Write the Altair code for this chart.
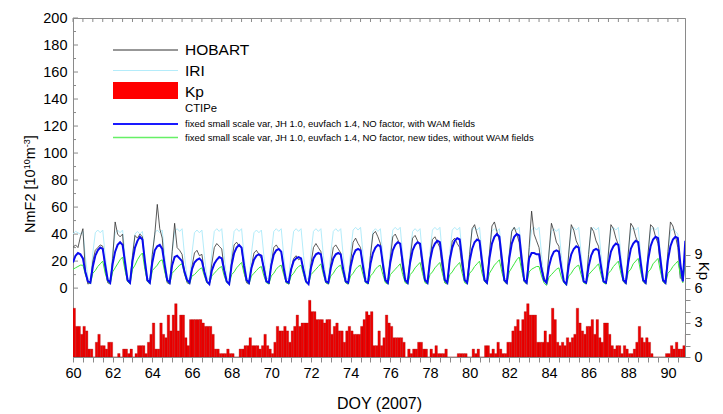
import altair as alt
import pandas as pd

# ---------------- data ----------------
days = list(range(60, 91))
steps = [0, 0.125, 0.25, 0.375, 0.5, 0.625, 0.75, 0.875]

hobart = [
    [30, 32, 30, 38, 44, 12, 3, 4], [20, 28, 30, 32, 31, 14, 4, 3],
    [22, 49, 40, 38, 40, 15, 5, 3], [24, 39, 37, 40, 38, 16, 5, 4],
    [25, 40, 62, 44, 37, 14, 4, 3], [27, 48, 30, 28, 25, 12, 4, 3],
    [16, 26, 28, 24, 25, 12, 4, 3], [18, 30, 33, 31, 29, 14, 5, 3],
    [20, 32, 34, 31, 30, 13, 4, 3], [16, 26, 28, 25, 22, 16, 6, 3],
    [18, 30, 32, 29, 27, 12, 4, 3], [14, 22, 24, 21, 22, 14, 5, 3],
    [18, 30, 33, 30, 27, 13, 4, 3], [18, 30, 32, 29, 26, 12, 4, 3],
    [20, 34, 37, 33, 30, 14, 5, 3], [24, 40, 42, 38, 33, 15, 5, 3],
    [22, 38, 40, 36, 32, 14, 5, 3], [22, 37, 39, 35, 31, 14, 5, 3],
    [21, 36, 38, 34, 30, 14, 4, 3], [21, 35, 37, 33, 30, 15, 6, 3],
    [25, 44, 47, 40, 34, 16, 5, 3], [26, 46, 49, 42, 35, 16, 5, 3],
    [25, 42, 45, 40, 34, 16, 5, 3], [30, 57, 40, 35, 30, 16, 8, 4],
    [26, 48, 42, 34, 31, 15, 5, 3], [26, 47, 43, 35, 31, 15, 5, 3],
    [25, 45, 42, 35, 31, 15, 5, 3], [26, 47, 44, 37, 32, 15, 5, 3],
    [26, 48, 45, 38, 33, 16, 5, 3], [26, 47, 45, 38, 33, 16, 5, 3],
    [27, 49, 46, 39, 30, 7, None, None],
]

iri = [
    [40, 42, 41, 40, 42, 23, 8, 6], [26, 41, 43, 41, 43, 24, 8, 6],
    [26, 41, 43, 41, 43, 24, 8, 6], [25, 40, 42, 40, 42, 23, 8, 6],
    [26, 41, 43, 41, 43, 24, 8, 6], [26, 42, 44, 42, 44, 24, 8, 6],
    [26, 41, 43, 41, 43, 24, 8, 6], [26, 42, 44, 42, 44, 24, 8, 6],
    [26, 42, 44, 42, 44, 24, 8, 6], [26, 41, 43, 41, 43, 24, 8, 6],
    [26, 42, 44, 42, 44, 24, 8, 6], [26, 42, 44, 42, 44, 24, 8, 6],
    [26, 42, 44, 42, 44, 24, 8, 6], [26, 42, 44, 42, 44, 24, 8, 6],
    [27, 43, 45, 43, 45, 25, 8, 6], [26, 42, 44, 42, 44, 24, 8, 6],
    [27, 43, 45, 43, 45, 25, 8, 6], [26, 42, 44, 42, 44, 24, 8, 6],
    [27, 43, 45, 43, 45, 25, 8, 6], [27, 43, 45, 43, 45, 25, 8, 6],
    [27, 43, 45, 43, 45, 25, 8, 6], [26, 42, 44, 42, 44, 24, 8, 6],
    [27, 43, 45, 43, 45, 25, 8, 6], [27, 43, 45, 43, 45, 25, 8, 6],
    [26, 42, 44, 42, 44, 24, 8, 6], [27, 43, 45, 43, 45, 25, 8, 6],
    [27, 43, 45, 43, 45, 25, 8, 6], [27, 43, 45, 43, 45, 25, 8, 6],
    [27, 43, 45, 43, 45, 25, 8, 6], [27, 43, 45, 43, 45, 25, 8, 6],
    [26, 42, 44, 42, 40, 8, None, None],
]

ctipe_wam = [
    [19, 24, 26, 25, 22, 12, 5, 4], [16, 24, 28, 30, 29, 17, 6, 4],
    [18, 27, 32, 34, 32, 19, 6, 4], [20, 30, 35, 38, 36, 20, 6, 4],
    [19, 28, 31, 32, 29, 17, 6, 4], [17, 23, 24, 22, 20, 12, 6, 4],
    [14, 19, 21, 22, 20, 12, 5, 3], [13, 18, 21, 23, 22, 13, 5, 3],
    [17, 26, 30, 32, 30, 17, 6, 4], [15, 21, 24, 25, 24, 14, 5, 4],
    [17, 25, 28, 29, 27, 15, 5, 4], [14, 20, 22, 23, 22, 13, 5, 3],
    [15, 22, 25, 26, 25, 14, 5, 4], [15, 22, 25, 26, 25, 14, 5, 4],
    [16, 24, 28, 29, 28, 16, 5, 4], [18, 26, 30, 32, 31, 18, 6, 4],
    [19, 28, 32, 34, 33, 19, 6, 4], [19, 28, 32, 34, 33, 19, 6, 4],
    [20, 29, 33, 35, 34, 20, 6, 4], [21, 30, 35, 37, 36, 21, 6, 4],
    [20, 29, 34, 36, 35, 20, 6, 4], [22, 33, 38, 40, 38, 22, 6, 4],
    [22, 33, 38, 40, 39, 22, 6, 4], [22, 26, 26, 25, 25, 14, 6, 4],
    [16, 23, 27, 28, 27, 15, 5, 3], [17, 25, 29, 31, 30, 17, 5, 4],
    [16, 24, 28, 29, 28, 16, 5, 4], [18, 27, 31, 33, 32, 18, 6, 4],
    [19, 29, 33, 35, 34, 19, 6, 4], [21, 31, 36, 38, 37, 21, 6, 4],
    [21, 31, 36, 38, 37, 18, 5, 35],
]

ctipe_nowam = [
    [14, 15, 16, 17, 17, 10, 5, 3], [11, 13, 16, 18, 20, 11, 5, 3],
    [12, 15, 18, 21, 23, 13, 5, 3], [14, 17, 21, 24, 26, 14, 5, 3],
    [13, 15, 17, 20, 21, 12, 5, 3], [11, 13, 15, 17, 18, 10, 5, 3],
    [9, 10, 12, 14, 15, 9, 4, 3], [9, 11, 13, 15, 16, 9, 4, 3],
    [10, 12, 15, 17, 19, 11, 5, 3], [9, 11, 13, 15, 16, 9, 4, 3],
    [9, 11, 14, 16, 17, 10, 4, 3], [9, 11, 14, 16, 17, 10, 4, 3],
    [10, 12, 14, 16, 18, 10, 4, 3], [9, 11, 14, 16, 17, 10, 4, 3],
    [9, 11, 14, 16, 17, 10, 4, 3], [9, 11, 14, 16, 17, 10, 4, 3],
    [10, 12, 14, 16, 18, 10, 4, 3], [10, 12, 15, 17, 19, 11, 4, 3],
    [10, 12, 15, 17, 19, 11, 4, 3], [10, 12, 15, 17, 19, 11, 4, 3],
    [11, 13, 16, 18, 20, 11, 5, 3], [11, 14, 17, 19, 21, 12, 5, 3],
    [12, 15, 18, 21, 23, 13, 5, 3], [12, 14, 15, 16, 16, 9, 4, 2],
    [8, 10, 12, 14, 15, 8, 4, 2], [9, 11, 14, 16, 17, 10, 4, 3],
    [10, 12, 14, 16, 18, 10, 4, 3], [11, 13, 16, 18, 20, 11, 5, 3],
    [12, 14, 18, 20, 22, 12, 5, 3], [12, 14, 18, 20, 22, 12, 5, 3],
    [11, 13, 16, 18, 20, 10, 4, 19],
]

kp = [
    4.3, 2.7, 2.7, 2.0, 2.7, 2.3, 0.7, 0.7,
    0.0, 1.3, 2.0, 1.0, 1.0, 0.7, 1.3, 1.3,
    0.0, 0.0, 0.3, 0.0, 0.7, 0.7, 0.3, 0.7,
    0.0, 0.3, 1.0, 1.0, 1.0, 0.3, 1.3, 2.0,
    3.0, 0.7, 0.7, 3.0, 2.0, 1.7, 3.7, 2.3,
    3.7, 4.7, 2.3, 3.7, 3.7, 1.7, 1.0, 3.3,
    3.3, 3.3, 3.3, 3.3, 3.0, 2.7, 2.7, 2.7,
    2.0, 0.7, 0.7, 0.3, 0.3, 0.3, 0.7, 0.3,
    0.3, 0.0, 0.0, 0.7, 0.7, 1.0, 1.0, 1.7,
    1.0, 1.0, 1.0, 0.7, 1.0, 2.0, 1.0, 0.7,
    0.3, 1.3, 2.7, 2.3, 2.3, 2.7, 2.3, 1.3,
    2.3, 2.7, 3.7, 2.7, 3.0, 3.0, 3.0, 5.0,
    4.0, 4.0, 3.3, 3.3, 3.3, 3.0, 3.3, 3.3,
    2.0, 2.7, 3.0, 2.3, 2.3, 1.3, 2.3, 2.7,
    2.3, 2.0, 2.0, 2.0, 2.7, 3.3, 4.0, 3.7,
    4.0, 1.0, 1.0, 2.3, 1.0, 1.7, 3.7, 3.0,
    2.7, 1.7, 1.7, 1.7, 1.7, 1.3, 0.0, 0.7,
    0.3, 0.7, 0.7, 1.3, 1.3, 0.7, 0.7, 0.0,
    0.7, 0.3, 1.0, 0.3, 0.3, 0.3, 0.7, 0.0,
    0.0, 0.0, 0.0, 0.3, 0.3, 0.3, 0.3, 0.0,
    0.0, 0.7, 0.3, 0.7, 0.0, 0.0, 1.0, 1.0,
    0.3, 0.7, 0.3, 1.3, 0.7, 0.3, 0.3, 1.3,
    1.3, 2.3, 2.7, 3.3, 2.3, 3.3, 4.0, 4.7,
    3.7, 3.7, 3.7, 1.3, 1.3, 1.3, 2.3, 1.3,
    2.0, 4.3, 3.3, 1.3, 1.0, 1.3, 1.0, 1.7,
    1.3, 1.7, 2.0, 4.3, 3.0, 2.3, 2.0, 2.7,
    2.7, 3.3, 2.0, 3.3, 1.7, 1.3, 3.0, 3.0,
    2.0, 1.0, 0.7, 1.0, 1.0, 0.3, 1.0, 0.7,
    0.3, 0.3, 0.7, 1.3, 2.7, 1.7, 1.3, 1.7,
    1.3, 0.3, 0.0, 0.0, 0.0, 0.0, 0.0, 0.3,
    0.3, 1.0, 0.7, 1.3, 0.7, 0.7, 1.0, 2.0,
]

x_ticks = [60 + 0.5 * i for i in range(62)]
y_major = list(range(0, 201, 20))
y_minor = list(range(10, 200, 20))
kp_ticks = list(range(0, 10))

legend_labels = ["HOBART", "IRI", "Kp", "CTIPe",
                 "fixed small scale var, JH 1.0, euvfach 1.4, NO factor, with WAM fields",
                 "fixed small scale var, JH 1.0, euvfach 1.4, NO factor, new tides, without WAM fields"]

# y-axis title pieces: (text, font size, is superscript)
ytitle_parts = [("NmF2 [10", 14.5, False), ("10", 9, True), ("m", 14.5, False),
                ("-3", 9, True), ("]", 14.5, False)]
kp_title = "Kp"
x_title = "DOY (2007)"


def series(vals):
    rows = []
    for d, dv in zip(days, vals):
        for s, v in zip(steps, dv):
            if v is not None:
                rows.append({"doy": d + s, "nmf2": v})
    return pd.DataFrame(rows)


kp_df = pd.DataFrame({
    "t0": [60 + i / 8 for i in range(len(kp))],
    "t1": [60 + (i + 1) / 8 for i in range(len(kp))],
    "kp": kp,
    "k0": [0] * len(kp),
})

GRAY = "#8a8a8a"
FONT = "Liberation Sans"
X_END = 90.86

xs = alt.Scale(domain=[60, X_END], nice=False, zero=False)
ys = alt.Scale(domain=[-51, 200], nice=False, zero=False)
ks = alt.Scale(domain=[0, 29.9], nice=False, zero=False)

X_AX = alt.Axis(values=x_ticks, labelExpr="datum.value % 2 == 0 ? datum.value : ''",
                title=x_title, tickSize=5, tickColor=GRAY, domainColor=GRAY,
                labelFontSize=14.5, titleFontSize=16, labelPadding=4, titlePadding=16,
                grid=False, labelFlush=False, labelOverlap=False, titleFontWeight="normal")
Y_AX = alt.Axis(values=y_major, ticks=False, domainColor=GRAY, labelFontSize=14.5,
                title="", labelPadding=6, grid=False)
K_AX = alt.Axis(orient="right", values=kp_ticks,
                labelExpr="datum.value % 3 == 0 ? datum.value : ''",
                tickSize=5, tickColor=GRAY, domainColor=GRAY, labelFontSize=14.5, labelPadding=4,
                title="", grid=False)


def line(vals, color, width):
    return alt.Chart(series(vals)).mark_line(color=color, strokeWidth=width, clip=True).encode(
        x=alt.X("doy:Q", scale=xs, axis=X_AX),
        y=alt.Y("nmf2:Q", scale=ys, axis=Y_AX),
    )


one = pd.DataFrame({"a": [0]})

top_ticks = alt.Chart(pd.DataFrame({"doy": x_ticks})).mark_rule(color=GRAY).encode(
    x=alt.X("doy:Q", scale=xs, axis=X_AX), y=alt.value(0), y2=alt.value(4))
left_major = alt.Chart(pd.DataFrame({"nmf2": y_major})).mark_rule(color=GRAY).encode(
    y=alt.Y("nmf2:Q", scale=ys, axis=Y_AX), x=alt.value(0), x2=alt.value(5))
left_minor = alt.Chart(pd.DataFrame({"nmf2": y_minor})).mark_rule(color=GRAY).encode(
    y=alt.Y("nmf2:Q", scale=ys, axis=Y_AX), x=alt.value(0), x2=alt.value(3))


def leg_rule(y, color, width):
    return alt.Chart(one).mark_rule(color=color, strokeWidth=width).encode(
        x=alt.value(40), x2=alt.value(105), y=alt.value(y))


def txt(x, y, label, size, angle=0, align="left"):
    return alt.Chart(one).mark_text(align=align, baseline="middle", fontSize=size, angle=angle,
                                    font=FONT, color="black").encode(
        x=alt.value(x), y=alt.value(y), text=alt.value(label))


legend = [
    leg_rule(32, "#303030", 1), txt(112, 32, legend_labels[0], 15.5),
    leg_rule(52.5, "#b4ecfa", 1), txt(112, 52.5, legend_labels[1], 15.5),
    alt.Chart(one).mark_rect(color="#ff0000").encode(
        x=alt.value(40), x2=alt.value(105), y=alt.value(64), y2=alt.value(81)),
    txt(112, 73.5, legend_labels[2], 15.5),
    txt(112, 91, legend_labels[3], 11.3),
    leg_rule(106, "#1a1aff", 2), txt(112, 106, legend_labels[4], 9.5),
    leg_rule(119.5, "#66f066", 1.5), txt(112, 119.5, legend_labels[5], 9.5),
]

# rotated y title built from pieces (reads bottom to top)
ytitle = []
ypos = 215.0
for text, size, sup in ytitle_parts:
    ytitle.append(txt(-46.5 if sup else -42, ypos, text, size, angle=270))
    width = sum(0.556 if ch.isdigit() else {"N": 0.722, "m": 0.833, "F": 0.611, " ": 0.278,
                                            "[": 0.278, "]": 0.278, "-": 0.333}.get(ch, 0.5)
                for ch in text) * size
    ypos -= width

kp_title_mark = txt(631, 253, kp_title, 15, angle=90, align="center")

nm_layer = alt.layer(
    top_ticks, left_major, left_minor,
    line(iri, "#b4ecfa", 1.0),
    line(hobart, "#303030", 0.8),
    line(ctipe_nowam, "#3ce63c", 1.0),
    line(ctipe_wam, "#0a0aee", 2.0),
    *legend, *ytitle, kp_title_mark,
)

kp_layer = alt.Chart(kp_df).mark_rect(color="#ee0000", stroke="#a00000", strokeWidth=0.3,
                                      clip=True).encode(
    x=alt.X("t0:Q", scale=xs, axis=X_AX),
    x2="t1:Q",
    y=alt.Y("kp:Q", scale=ks, axis=K_AX),
    y2="k0:Q",
)

chart = alt.layer(kp_layer, nm_layer).resolve_scale(y="independent").properties(
    width=612, height=339,
    autosize=alt.AutoSizeParams(type="none"),
    padding={"left": 65, "top": 10, "right": 30, "bottom": 57},
).configure(font=FONT).configure_view(stroke=GRAY, strokeWidth=1).configure_axis(
    labelColor="black", titleColor="black", labelFont=FONT, titleFont=FONT)

chart.save("out.html", embed_options={"renderer": "svg", "actions": False})
